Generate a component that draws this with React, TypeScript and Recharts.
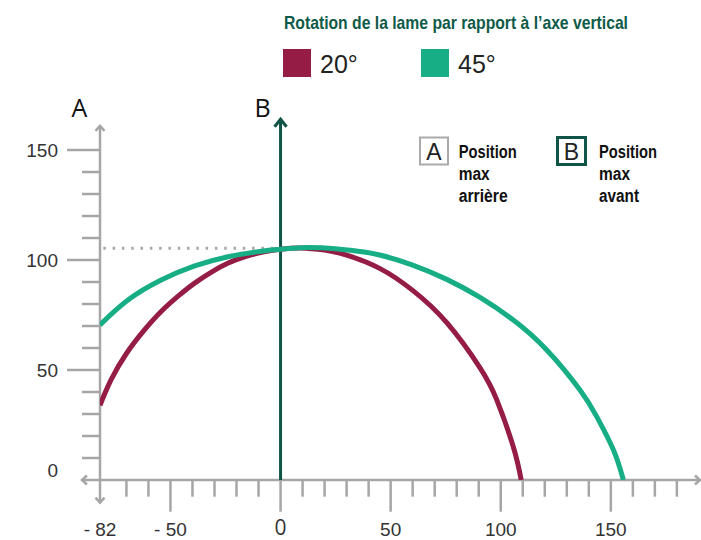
import { Line, LineChart, ReferenceLine, XAxis, YAxis } from "recharts";

// blade path for 20° (maroon) and 45° (teal)
const maroonX = [-82, -77, -70, -62, -54, -46, -39, -31, -24, -16, -8, 0, 9, 20, 30, 45, 60, 75.5, 90.6, 98.2, 105.7, 109.3];
const maroonY = [34, 45.5, 57.5, 68, 76.8, 84, 89.5, 94.7, 98.5, 101.5, 103.6, 104.9, 105.5, 104.5, 102.2, 96.2, 86.2, 71.5, 51, 36.4, 15.1, 0];

const tealX = [-82, -69.3, -54, -39, -23.8, -8.6, 0, 12, 25, 35, 45, 60, 75.5, 90.6, 105.7, 120.9, 136, 143.6, 151.2, 155.7];
const tealY = [70.5, 81.8, 91, 97.3, 101.5, 104, 104.9, 105.7, 105.1, 104, 102.3, 97.7, 91.2, 83, 72.7, 59.1, 40.9, 28.8, 13.6, 0];

const seriesNames = ["20°", "45°"];
const seriesColors = ["#951c45", "#17ad85"];

const xTicks = [-82, -70, -60, -50, -40, -30, -20, -10, 0, 10, 20, 30, 40, 50, 60, 70, 80, 90, 100, 110, 120, 130, 140, 150, 160, 170, 180];
const xMajor = [-82, -50, 0, 50, 100, 150];
const xLabels = ["- 82", "- 50", "0", "50", "100", "150"];

const yTicks = [0, 10, 20, 30, 40, 50, 60, 70, 80, 90, 100, 110, 120, 130, 140, 150];
const yMajor = [0, 50, 100, 150];

const peakLevel = 105.3;

const title = "Rotation de la lame par rapport à l’axe vertical";

const GRAY = "#a6a6a6";
const DARK = "#0f5446";
const FONT = "'Liberation Sans', Arial, sans-serif";

const maroonData = maroonX.map((x, i) => ({ x, y: maroonY[i] }));
const tealData = tealX.map((x, i) => ({ x, y: tealY[i] }));

function XTick(props: any) {
  const { x, y, payload } = props;
  const v = payload.value;
  const idx = xMajor.indexOf(v);
  const major = idx >= 0;
  return (
    <g>
      {v !== -82 && (
        <line x1={x} x2={x} y1={y} y2={y + (major ? 31.7 : 16.7)} stroke={GRAY} strokeWidth={2.5} />
      )}
      {major && (
        <text
          x={x}
          y={y + (v === 0 ? 55 : 56)}
          textAnchor="middle"
          fill="#333"
          fontSize={v === 0 ? 21 : 19}
          fontFamily={v === 0 ? "'Open Sans', sans-serif" : FONT}
        >
          {xLabels[idx]}
        </text>
      )}
    </g>
  );
}

function YTick(props: any) {
  const { x, y, payload } = props;
  const v = payload.value;
  const major = yMajor.includes(v);
  return (
    <g>
      {v !== 0 && (
        <line x1={x - (major ? 33 : 18)} x2={x} y1={y} y2={y} stroke={GRAY} strokeWidth={2.5} />
      )}
      {major && (
        <text x={x - 42} y={y + (v === 0 ? -10 : 0) + 7} textAnchor="end" fill="#333" fontSize={19} fontFamily={FONT}>
          {v}
        </text>
      )}
    </g>
  );
}

// line with open chevron arrowheads
const arrowLine = (start: boolean, end: boolean, len: number, half: number) => (props: any) => {
  const { x1, y1, x2, y2, stroke, strokeWidth } = props;
  const dx = x2 - x1;
  const dy = y2 - y1;
  const d = Math.sqrt(dx * dx + dy * dy) || 1;
  const ux = dx / d;
  const uy = dy / d;
  const head = (tx: number, ty: number, s: number) => {
    const bx = tx - s * ux * len;
    const by = ty - s * uy * len;
    return `M${bx - uy * half},${by + ux * half} L${tx},${ty} L${bx + uy * half},${by - ux * half}`;
  };
  return (
    <g>
      <line x1={x1} y1={y1} x2={x2} y2={y2} stroke={stroke} strokeWidth={strokeWidth} />
      {start && <path d={head(x1, y1, -1)} fill="none" stroke={stroke} strokeWidth={strokeWidth} />}
      {end && <path d={head(x2, y2, 1)} fill="none" stroke={stroke} strokeWidth={strokeWidth} />}
    </g>
  );
};

export default function App() {
  return (
    <div style={{ position: "absolute", left: 0, top: 0, width: 701, height: 540, background: "#fff" }}>
      <LineChart width={701} height={540} margin={{ top: 119, right: 1, left: 0, bottom: 0 }}>
        <XAxis
          type="number"
          dataKey="x"
          domain={[-82, 190.5]}
          allowDataOverflow
          ticks={xTicks}
          interval={0}
          height={60}
          axisLine={false}
          tickLine={false}
          tickSize={0}
          tickMargin={0}
          tick={<XTick />}
        />
        <YAxis
          type="number"
          dataKey="y"
          domain={[0, 164.1]}
          allowDataOverflow
          ticks={yTicks}
          interval={0}
          width={100}
          axisLine={false}
          tickLine={false}
          tickSize={0}
          tickMargin={0}
          tick={<YTick />}
        />
        <ReferenceLine
          segment={[{ x: -80.5, y: peakLevel }, { x: 0, y: peakLevel }]}
          stroke="#a8a8a8"
          strokeWidth={3}
          strokeDasharray="2.5 6.8"
          ifOverflow="visible"
        />
        <ReferenceLine
          segment={[{ x: -90.2, y: 0 }, { x: 190.5, y: 0 }]}
          stroke={GRAY}
          strokeWidth={2.5}
          ifOverflow="visible"
          shape={arrowLine(true, true, 5, 4.5)}
        />
        <ReferenceLine
          segment={[{ x: -82, y: -10.3 }, { x: -82, y: 161 }]}
          stroke={GRAY}
          strokeWidth={2.5}
          ifOverflow="visible"
          shape={arrowLine(true, true, 5, 4.5)}
        />
        <ReferenceLine
          segment={[{ x: 0, y: 0 }, { x: 0, y: 164 }]}
          stroke={DARK}
          strokeWidth={3}
          ifOverflow="visible"
          shape={arrowLine(false, true, 7.5, 6)}
        />
        <Line
          data={maroonData}
          dataKey="y"
          name={seriesNames[0]}
          type="natural"
          stroke={seriesColors[0]}
          strokeWidth={5}
          dot={false}
          activeDot={false}
          isAnimationActive={false}
        />
        <Line
          data={tealData}
          dataKey="y"
          name={seriesNames[1]}
          type="natural"
          stroke={seriesColors[1]}
          strokeWidth={5}
          dot={false}
          activeDot={false}
          isAnimationActive={false}
        />
      </LineChart>
      <svg width={701} height={540} style={{ position: "absolute", left: 0, top: 0, pointerEvents: "none" }}>
        <text x={284} y={29.3} fill="#0f5a48" fontSize={19} fontWeight="bold" fontFamily={FONT} textLength={344} lengthAdjust="spacingAndGlyphs">
          {title}
        </text>
        {seriesNames.map((name, i) => (
          <g key={name}>
            <rect x={283 + i * 138} y={49} width={28} height={28} fill={seriesColors[i]} />
            <text x={320 + i * 138} y={73.3} fill="#222" fontSize={25} fontFamily={FONT}>
              {name}
            </text>
          </g>
        ))}
        <text x={79.5} y={116.7} textAnchor="middle" fill="#111" fontSize={25} fontFamily="'Open Sans', sans-serif">A</text>
        <text x={262.7} y={116.7} textAnchor="middle" fill="#111" fontSize={25} fontFamily="'Open Sans', sans-serif">B</text>

        <rect x={420} y={137.5} width={28} height={27} fill="#fff" stroke="#aaa" strokeWidth={2} />
        <text x={434} y={159.5} textAnchor="middle" fill="#222" fontSize={23} fontFamily={FONT}>A</text>
        <text x={458.7} y={158.3} fill="#111" fontSize={18} fontWeight="bold" fontFamily={FONT} textLength={58} lengthAdjust="spacingAndGlyphs">Position</text>
        <text x={458.7} y={180} fill="#111" fontSize={18} fontWeight="bold" fontFamily={FONT} textLength={31} lengthAdjust="spacingAndGlyphs">max</text>
        <text x={458.7} y={202.3} fill="#111" fontSize={18} fontWeight="bold" fontFamily={FONT} textLength={49} lengthAdjust="spacingAndGlyphs">arrière</text>

        <rect x={557.5} y={137.5} width={28} height={27} fill="#fff" stroke={DARK} strokeWidth={3} />
        <text x={571.5} y={159.5} textAnchor="middle" fill="#222" fontSize={23} fontFamily={FONT}>B</text>
        <text x={599} y={158.3} fill="#111" fontSize={18} fontWeight="bold" fontFamily={FONT} textLength={58} lengthAdjust="spacingAndGlyphs">Position</text>
        <text x={599} y={180} fill="#111" fontSize={18} fontWeight="bold" fontFamily={FONT} textLength={31} lengthAdjust="spacingAndGlyphs">max</text>
        <text x={599} y={202.3} fill="#111" fontSize={18} fontWeight="bold" fontFamily={FONT} textLength={40} lengthAdjust="spacingAndGlyphs">avant</text>
      </svg>
    </div>
  );
}
